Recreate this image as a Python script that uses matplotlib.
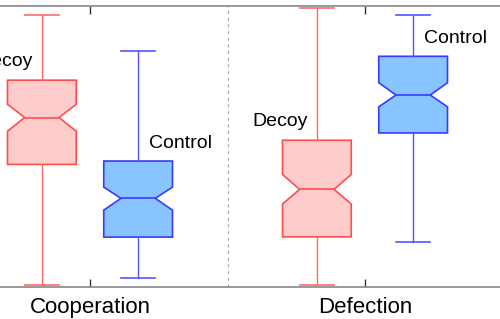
import matplotlib.pyplot as plt

plt.rcParams['font.family'] = ['Liberation Sans', 'DejaVu Sans']

categories = ["Cooperation", "Defection"]
groups = ["Decoy", "Control"]

# box statistics (fraction scale), per category: [Decoy, Control]
whislo = [[0.006, 0.030], [0.006, 0.160]]
q1 = [[0.436, 0.177], [0.178, 0.548]]
cilo = [[0.554, 0.273], [0.295, 0.641]]
med = [[0.603, 0.315], [0.347, 0.683]]
cihi = [[0.650, 0.355], [0.400, 0.727]]
q3 = [[0.736, 0.448], [0.522, 0.821]]
whishi = [[0.968, 0.840], [0.992, 0.968]]

edge_colors = ["#ff4d4d", "#3a3aff"]
fill_colors = ["#ffcccc", "#88c4ff"]
whisk_colors = ["#ff6b6b", "#5555ff"]
offsets = [-0.175, 0.175]

fig = plt.figure(figsize=(5.0, 3.19), dpi=100)
# axes is wider than the figure: the original is a crop of a bigger plot
ax = fig.add_axes([-0.095, 0.101, 1.10, 0.880])

for ci, cat in enumerate(categories):
    for gi, grp in enumerate(groups):
        stats = [{
            "whislo": whislo[ci][gi], "q1": q1[ci][gi], "med": med[ci][gi],
            "q3": q3[ci][gi], "whishi": whishi[ci][gi],
            "cilo": cilo[ci][gi], "cihi": cihi[ci][gi], "fliers": [],
        }]
        pos = ci + 1 + offsets[gi]
        ax.bxp(stats, positions=[pos], widths=0.25, shownotches=True,
               patch_artist=True, manage_ticks=False,
               boxprops=dict(facecolor=fill_colors[gi], edgecolor=edge_colors[gi], linewidth=1.2),
               medianprops=dict(color=edge_colors[gi], linewidth=1.2),
               whiskerprops=dict(color=whisk_colors[gi], linewidth=1.0),
               capprops=dict(color=whisk_colors[gi], linewidth=1.2))
        if grp == "Decoy":
            ax.annotate(grp, xy=(pos, q3[ci][gi]), xytext=(-6.5, 13.5),
                        textcoords="offset points", ha="right", va="center", fontsize=14)
        else:
            ax.annotate(grp, xy=(pos, q3[ci][gi]), xytext=(8, 12.5),
                        textcoords="offset points", ha="left", va="center", fontsize=14)

ax.axvline(1.5, color="#aaaaaa", linestyle=(0, (3, 3)), linewidth=0.8)

ax.set_xlim(0.5, 2.5)
ax.set_ylim(0, 1)
ax.set_xticks([1, 2])
ax.set_xticklabels(categories, fontsize=16)
ax.set_yticks([])
ax.tick_params(axis="x", direction="in", length=6, width=1, color="#333333",
               top=True, pad=7)
for side in ax.spines:
    ax.spines[side].set_color("#888888")
    ax.spines[side].set_linewidth(1.2)

fig.savefig("out.png", dpi=100)
